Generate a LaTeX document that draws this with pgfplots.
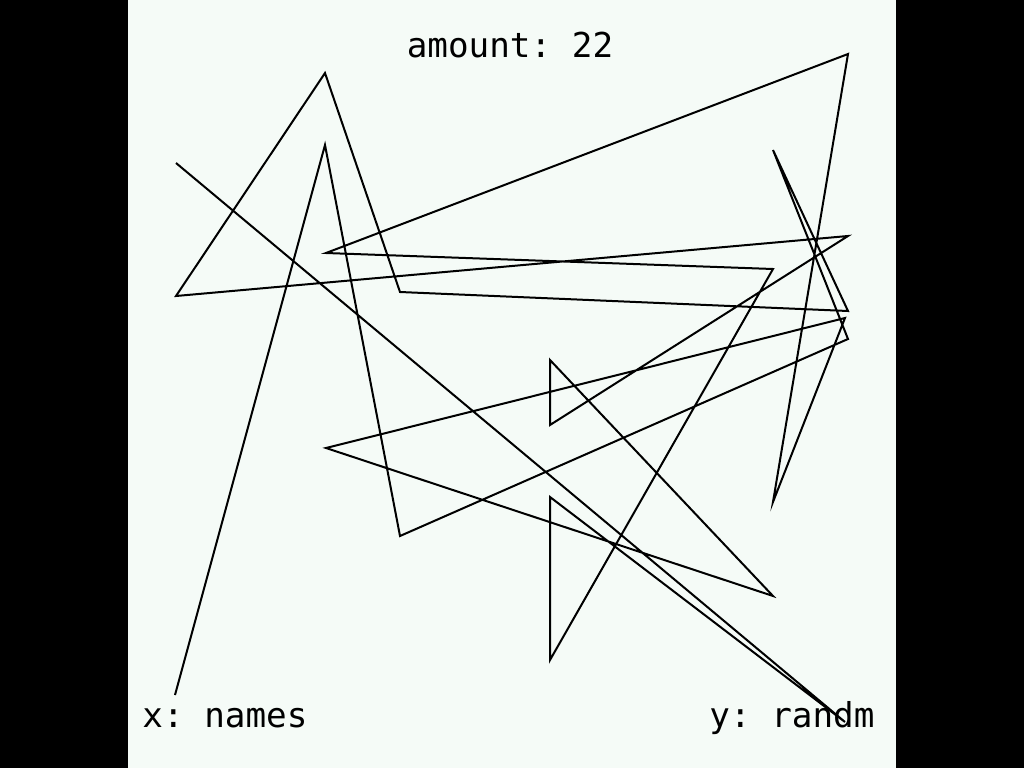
\documentclass[border=0pt]{standalone}
\usepackage{pgfplots}
\pgfplotsset{compat=1.18}
\usepackage{fontspec}
\setmonofont{DejaVu Sans Mono}
\definecolor{panel}{RGB}{245,251,247}

% one traced line, in screen pixels (x right, y down)
\pgfplotstableread{
x   y
175 695
325 145
400 536
848 339
773 150
848 311
400 292
325 73
176 296
848 236
550 425
550 360
773 596
326 448
845 318
773 502
848 54
326 253
773 269
550 660
550 497
845 722
176 163
}\points

\begin{document}
\begin{tikzpicture}
\begin{axis}[
	scale only axis,
	width=512bp, height=384bp,
	xmin=0, xmax=1024, ymin=0, ymax=768,
	y dir=reverse,
	axis lines=none,
	clip=false,
]
\fill[black] (axis cs:0,0) rectangle (axis cs:1024,768);
\fill[panel] (axis cs:128,0) rectangle (axis cs:896,768);
\addplot[black, line width=1bp, mark=none, line join=miter] table[x=x, y=y] {\points};
\node[font=\ttfamily\fontsize{17.2}{20}\selectfont, anchor=base, inner sep=0pt] at (axis cs:510,57.5) {amount: 22};
\node[font=\ttfamily\fontsize{17.2}{20}\selectfont, anchor=base west, inner sep=0pt] at (axis cs:142,727) {x: names};
\node[font=\ttfamily\fontsize{17.2}{20}\selectfont, anchor=base west, inner sep=0pt] at (axis cs:709,727) {y: randm};
\end{axis}
\pgfresetboundingbox
\path (current axis.south west) rectangle (current axis.north east);
\end{tikzpicture}
\end{document}
